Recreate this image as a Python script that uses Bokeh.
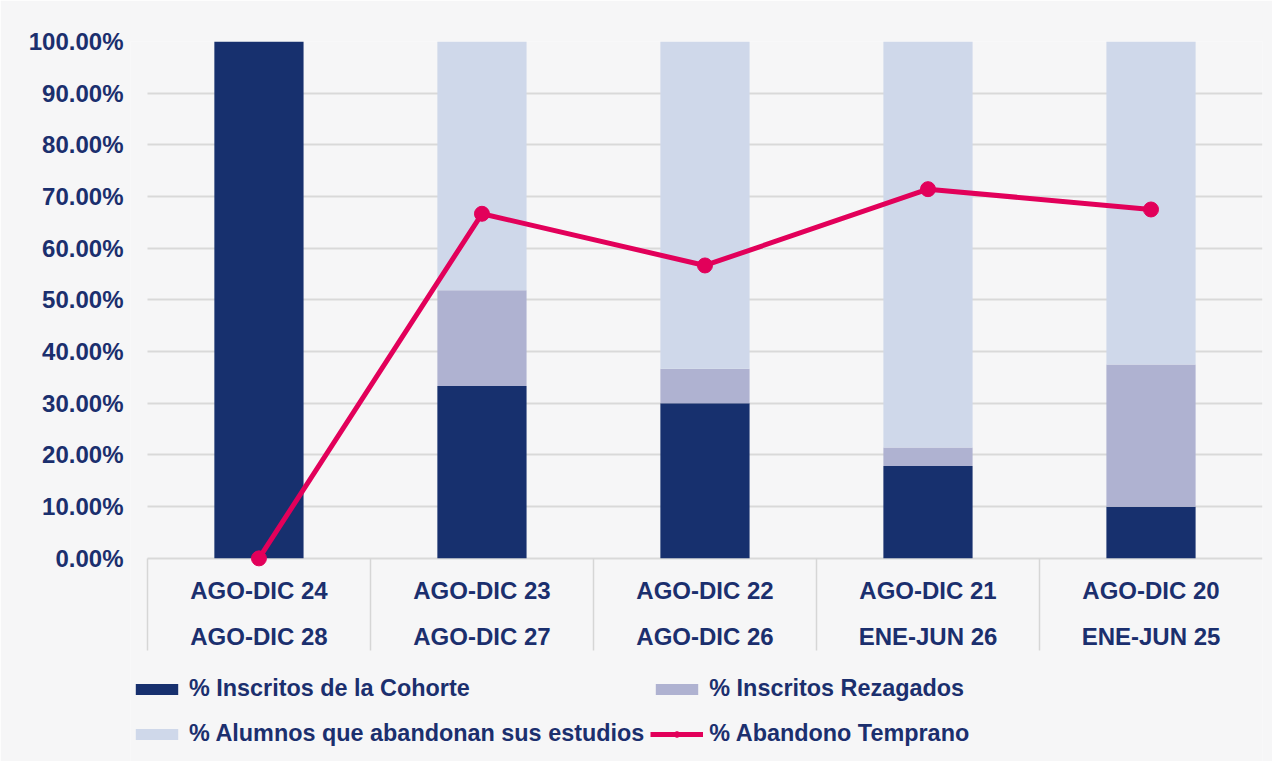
from bokeh.plotting import figure
from bokeh.models import (Range1d, FixedTicker, NumeralTickFormatter,
                          Legend, LegendItem, Grid, ColumnDataSource)
from bokeh.core.properties import value
from bokeh.embed import file_html
from bokeh.resources import INLINE

# ---------------- data ----------------
periodo_ingreso = ["AGO-DIC 24", "AGO-DIC 23", "AGO-DIC 22", "AGO-DIC 21", "AGO-DIC 20"]
periodo_egreso = ["AGO-DIC 28", "AGO-DIC 27", "AGO-DIC 26", "ENE-JUN 26", "ENE-JUN 25"]
inscritos_cohorte = [1.0, 0.3333, 0.30, 0.1786, 0.10]
inscritos_rezagados = [0.0, 0.1852, 0.0667, 0.0357, 0.275]
alumnos_abandonan = [0.0, 0.4815, 0.6333, 0.7857, 0.625]
abandono_temprano = [0.0, 0.6667, 0.5667, 0.7143, 0.675]
y_ticks = [0.0, 0.1, 0.2, 0.3, 0.4, 0.5, 0.6, 0.7, 0.8, 0.9, 1.0]

# ---------------- style ----------------
NAVY = "#1b2f6e"
C_COH = "#17306e"
C_REZ = "#afb2d1"
C_ABA = "#cfd8ea"
C_LINE = "#e2005a"
BG = "#f6f6f7"
FONT = "Liberation Sans"
LABEL_AREA = -0.178   # category label box under the zero line
FRAME_BOTTOM = -0.393 # frame continues down to hold the legend
X_PAD = 0.076         # small left room so the legend lines up

n = len(periodo_ingreso)
pos = [i + 0.5 for i in range(n)]  # category slot centres

src = ColumnDataSource(dict(
    x=pos, cat=periodo_ingreso, cat2=periodo_egreso,
    cohorte=inscritos_cohorte, rezagados=inscritos_rezagados,
    abandonan=alumnos_abandonan, temprano=abandono_temprano,
))

p = figure(
    x_range=Range1d(-X_PAD, n),
    y_range=Range1d(FRAME_BOTTOM, 1.0),
    width=1272, height=761,
    output_backend="svg", toolbar_location=None,
    min_border_left=130, min_border_right=10, min_border_top=41, min_border_bottom=0,
)
p.background_fill_color = BG
p.border_fill_color = BG
p.outline_line_color = None

# axes
p.xaxis.visible = False
p.yaxis.ticker = FixedTicker(ticks=y_ticks)
p.yaxis.formatter = NumeralTickFormatter(format="0.00%")
p.yaxis.axis_line_color = None
p.yaxis.major_tick_line_color = None
p.yaxis.minor_tick_line_color = None
p.yaxis.major_label_standoff = 1
p.yaxis.major_label_text_font = FONT
p.yaxis.major_label_text_font_style = "bold"
p.yaxis.major_label_text_font_size = "24px"
p.yaxis.major_label_text_color = NAVY

p.xgrid.visible = False
p.ygrid.ticker = FixedTicker(ticks=y_ticks)
p.ygrid.cross_bounds = (0, n)
p.ygrid.grid_line_color = "#d9d9d9"
p.ygrid.grid_line_width = 2

# category separators in the label box
sep = Grid(dimension=0, ticker=FixedTicker(ticks=list(range(n + 1))),
           cross_bounds=(LABEL_AREA, 0),
           grid_line_color="#d6d6d6", grid_line_width=1.5)
p.add_layout(sep, "center")

bars = p.vbar_stack(["cohorte", "rezagados", "abandonan"], x="x", width=0.4,
                    color=[C_COH, C_REZ, C_ABA], line_color=None, source=src)
r_line = p.line("x", "temprano", source=src, color=C_LINE, line_width=5)
r_dot = p.scatter("x", "temprano", source=src, size=15, color=C_LINE)

for col, off in (("cat", 32), ("cat2", 78)):
    p.text(x="x", y=0, text=col, source=src, y_offset=off,
           text_align="center", text_baseline="middle",
           text_font=value(FONT), text_font_size="24px",
           text_font_style="bold", text_color=NAVY)

legend = Legend(items=[
    LegendItem(label="% Inscritos de la Cohorte", renderers=[bars[0]]),
    LegendItem(label="% Inscritos Rezagados", renderers=[bars[1]]),
    LegendItem(label="% Alumnos que abandonan sus estudios", renderers=[bars[2]]),
    LegendItem(label="% Abandono Temprano", renderers=[r_line, r_dot]),
], orientation="horizontal", ncols=2, location=(0, 8),
    margin=0, padding=0, spacing=6, label_height=39, glyph_height=14, glyph_width=53,
    label_standoff=6, background_fill_alpha=0, border_line_color=None,
    label_text_font=FONT, label_text_font_style="bold", label_text_font_size="23.4px",
    label_text_color=NAVY)
p.add_layout(legend, "center")

open("out.html", "w").write(file_html(p, INLINE))
